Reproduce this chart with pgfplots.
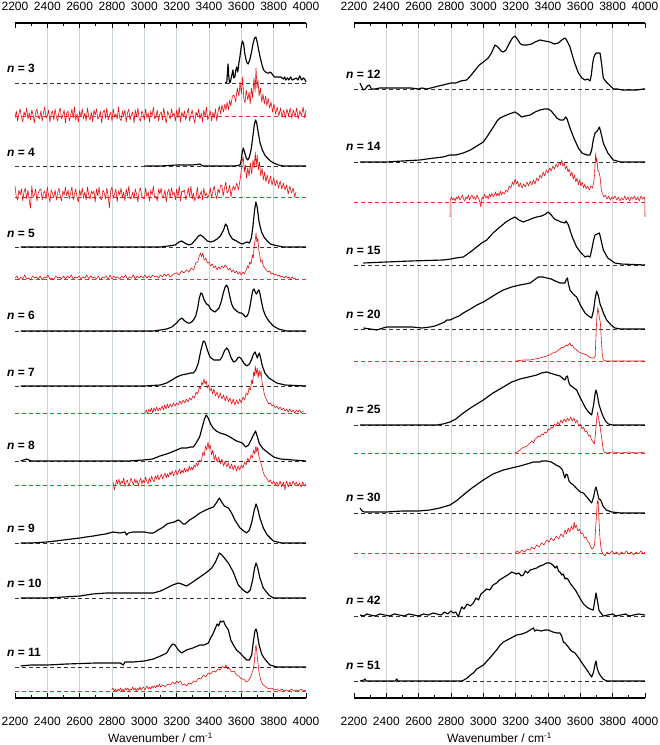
\documentclass[12pt,border=0pt]{standalone}
\usepackage{fontspec}
\setmainfont{Liberation Sans}
\usepackage{pgfplots}
\pgfplotsset{compat=1.18}
\definecolor{gridc}{RGB}{200,213,218}
\definecolor{redc}{RGB}{228,18,18}
\definecolor{redd}{RGB}{226,50,50}
\tikzset{
  blk/.style={black, line width=1.15pt, line join=round},
  rd/.style={redc, line width=0.6pt, line join=round},
  bd/.style={black!80, line width=0.9pt, dash pattern=on 4pt off 3pt},
  rdd/.style={redd, line width=0.9pt, dash pattern=on 4pt off 3pt},
}
\newcommand{\bl}[2]{\addplot[#1] coordinates {(2200,#2) (4000,#2)};}
\newcommand{\lab}[2]{\node[anchor=west,inner sep=0pt] at (axis cs:2150,#1) {\textbf{\textit{n} = #2}};}
\pgfplotsset{
  panel/.style={
    anchor=south west, width=291pt, height=675pt, scale only axis,
    xmin=2200, xmax=4000, ymin=-698, ymax=-23,
    axis y line=none, clip=false,
    y filter/.expression={0-y},
    xtick={2400,2600,...,3800}, extra x ticks={2200,4000},
    minor xtick={2300,2500,...,3900},
    xtick align=inside,
    major tick length=5pt, minor tick length=3pt,
    tick style={black, line width=0.9pt},
    x axis line style={line width=1.1pt},
    /pgf/number format/assume math mode=true,
    /pgf/number format/1000 sep={},
  },
  bottompanel/.style={panel, axis x line*=bottom, xtick pos=left, xticklabel pos=left,
    xticklabel shift=15pt, xmajorgrids, extra x tick style={grid=none},
    major grid style={gridc, line width=0.9pt},
    xlabel={Wavenumber / cm\textsuperscript{-1}},
    xlabel style={at={(axis description cs:0.5,0)}, anchor=center, yshift=-40pt}},
  toppanel/.style={panel, axis x line*=top, xtick pos=right, xticklabel pos=right, xticklabel shift=8pt},
}
\begin{document}
\begin{tikzpicture}
\useasboundingbox (0,0) rectangle (660pt,745pt);
%================ LEFT PANEL =================
\begin{axis}[bottompanel, at={(15pt,47pt)}]
% n = 3
\bl{bd}{83}
\addplot[blk] coordinates {(3500,83) (3510,82) (3518,64) (3522,76) (3527,83) (3532,82) (3540,76) (3548,70) (3553,78) (3560,77) (3566,70) (3572,67) (3578,72) (3585,63) (3592,56) (3600,46) (3607,41) (3614,44) (3622,54) (3632,62) (3642,64) (3652,60) (3662,53) (3672,44) (3682,38) (3690,37) (3698,42) (3707,50) (3716,57) (3728,65) (3738,70) (3750,72) (3760,73) (3772,73) (3780,72) (3790,74) (3805,77) (3825,77) (3845,77) (3860,79) (3868,77) (3875,80) (3885,78) (3895,80) (3905,77) (3915,80) (3928,79) (3940,78) (3950,80) (3962,76) (3972,80) (3985,78) (3995,80) (4000,82)};
\bl{rdd}{116}
\addplot[rd] coordinates {
(2200,118) (2208,111) (2216,121) (2224,114) (2232,109) (2240,117) (2248,122) (2256,112) (2264,116) (2272,108)
(2280,119) (2288,113) (2296,120) (2304,110) (2312,115) (2320,123) (2328,112) (2336,109) (2344,117) (2352,119)
(2360,111) (2368,121) (2376,113) (2384,107) (2392,118) (2400,116) (2408,110) (2416,122) (2424,114) (2432,111)
(2440,120) (2448,109) (2456,117) (2464,121) (2472,112) (2480,108) (2488,119) (2496,115) (2504,110) (2512,123)
(2520,113) (2528,111) (2536,121) (2544,116) (2552,109) (2560,118) (2568,107) (2576,120) (2584,114) (2592,122)
(2600,111) (2608,117) (2616,109) (2624,119) (2632,113) (2640,121) (2648,108) (2656,116) (2664,120) (2672,112)
(2680,122) (2688,110) (2696,115) (2704,109) (2712,119) (2720,117) (2728,111) (2736,123) (2744,113) (2752,110)
(2760,118) (2768,108) (2776,120) (2784,116) (2792,112) (2800,121) (2808,109) (2816,117) (2824,114) (2832,119)
(2840,107) (2848,118) (2856,121) (2864,111) (2872,116) (2880,110) (2888,122) (2896,113) (2904,109) (2912,120)
(2920,115) (2928,112) (2936,123) (2944,110) (2952,117) (2960,108) (2968,119) (2976,121) (2984,111) (2992,114)
(3000,120) (3008,109) (3016,118) (3024,113) (3032,122) (3040,111) (3048,116) (3056,107) (3064,119) (3072,117)
(3080,110) (3088,121) (3096,114) (3104,112) (3112,120) (3120,108) (3128,117) (3136,123) (3144,111) (3152,115)
(3160,119) (3168,109) (3176,116) (3184,113) (3192,121) (3200,110) (3208,118) (3216,107) (3224,122) (3232,112)
(3240,117) (3248,111) (3256,120) (3264,114) (3272,108) (3280,121) (3288,115) (3296,110) (3304,118) (3312,123)
(3320,112) (3328,116) (3336,109) (3344,119) (3352,113) (3360,122) (3368,110) (3376,117) (3384,107) (3392,120)
(3400,116) (3408,111) (3416,121) (3424,112) (3432,118) (3440,109) (3448,121)
(3456,112) (3464,106) (3472,114) (3480,105) (3490,112) (3498,104) (3505,110) (3512,102) (3520,110) (3528,100) (3535,106) (3545,96) (3555,95) (3565,102) (3575,88) (3585,96) (3592,82) (3600,94) (3608,77) (3615,98) (3623,103) (3630,90) (3640,100) (3648,92) (3655,104) (3662,88) (3670,98) (3678,78) (3685,92) (3691,68) (3697,88) (3703,80) (3710,96) (3718,88) (3726,102) (3734,94) (3742,104) (3750,96) (3758,106) (3766,98) (3775,108) (3784,102) (3793,112) (3802,104) (3812,114) (3822,107) (3832,116) (3842,108) (3852,117) (3862,110) (3872,118) (3882,109) (3892,116) (3902,108) (3912,118) (3922,110) (3932,117) (3942,108) (3952,119) (3962,111) (3972,116) (3982,107) (3992,118) (4000,110)};
\lab{-68}{3}
% n = 4
\bl{bd}{166}
\addplot[blk] coordinates {(3000,166) (3100,166) (3200,165) (3300,165) (3344,164) (3360,166) (3500,166) (3560,166) (3592,165) (3600,160) (3606,152) (3612,148) (3620,152) (3630,158) (3640,160) (3650,157) (3660,150) (3670,138) (3680,125) (3688,120) (3695,123) (3705,133) (3716,143) (3730,150) (3745,155) (3760,158) (3780,161) (3800,163) (3830,165) (3860,166) (4000,166)};
\bl{rdd}{197}
\addplot[rd] coordinates {
(2200,186) (2208,197) (2216,200) (2224,190) (2232,195) (2240,189) (2248,201) (2256,192) (2264,188) (2272,199)
(2280,190) (2288,200) (2296,208) (2304,186) (2312,197) (2320,195) (2328,189) (2336,201) (2344,193) (2352,190)
(2360,189) (2368,200) (2376,193) (2384,191) (2392,199) (2400,187) (2408,196) (2416,202) (2424,190) (2432,194)
(2440,197) (2448,190) (2456,200) (2464,193) (2472,188) (2480,196) (2488,201) (2496,191) (2504,195) (2512,187)
(2520,196) (2528,190) (2536,199) (2544,193) (2552,187) (2560,200) (2568,194) (2576,189) (2584,197) (2592,202)
(2600,190) (2608,196) (2616,188) (2624,198) (2632,192) (2640,200) (2648,187) (2656,195) (2664,199) (2672,191)
(2680,194) (2688,191) (2696,202) (2704,189) (2712,196) (2720,187) (2728,198) (2736,200) (2744,190) (2752,193)
(2760,199) (2768,188) (2776,196) (2784,208) (2792,191) (2800,187) (2808,198) (2816,194) (2824,189) (2832,202)
(2840,191) (2848,195) (2856,188) (2864,198) (2872,192) (2880,201) (2888,189) (2896,196) (2904,186) (2912,199)
(2920,198) (2928,192) (2936,199) (2944,189) (2952,194) (2960,202) (2968,191) (2976,188) (2984,196) (2992,198)
(3000,199) (3008,188) (3016,197) (3024,192) (3032,201) (3040,190) (3048,195) (3056,186) (3064,198) (3072,196)
(3080,201) (3088,189) (3096,194) (3104,188) (3112,198) (3120,196) (3128,190) (3136,202) (3144,192) (3152,189)
(3160,198) (3168,188) (3176,195) (3184,192) (3192,200) (3200,189) (3208,197) (3216,186) (3224,201) (3232,191)
(3240,192) (3248,190) (3256,200) (3264,195) (3272,188) (3280,197) (3288,186) (3296,199) (3304,193) (3312,201)
(3320,197) (3328,187) (3336,199) (3344,195) (3352,191) (3360,200) (3368,188) (3376,196) (3384,193) (3392,198)
(3400,195) (3408,188) (3416,198) (3424,191) (3432,186) (3440,194) (3448,199) (3456,189) (3464,193) (3472,185)
(3480,186) (3488,196) (3496,188) (3504,182) (3512,193) (3520,191) (3528,185) (3536,197) (3544,189) (3552,186)
(3560,190) (3572,183) (3582,190) (3592,180) (3600,170) (3606,160) (3612,157) (3618,172) (3625,165) (3632,178) (3640,168) (3648,176) (3656,163) (3664,174) (3672,160) (3680,168) (3686,152) (3692,166) (3698,155) (3705,170) (3712,162) (3720,176) (3728,168) (3736,180) (3744,172) (3752,182) (3760,175) (3770,184) (3780,176) (3790,185) (3800,178) (3810,186) (3820,180) (3830,188) (3840,181) (3850,189) (3860,183) (3870,190) (3880,185) (3890,194) (3900,186) (3910,193) (3920,188) (3930,197) (3938,192)};
\lab{-152}{4}
% n = 5
\bl{bd}{247}
\addplot[blk] coordinates {(2235,247) (2400,247) (2600,247) (2800,247) (3000,247) (3100,247) (3150,246) (3190,245) (3215,242) (3231,241) (3250,243) (3275,245) (3293,244) (3315,240) (3335,236) (3348,235) (3365,237) (3390,241) (3410,242) (3430,241) (3450,239) (3470,236) (3490,230) (3502,224) (3512,226) (3525,234) (3545,239) (3570,241) (3590,243) (3605,244) (3620,243) (3635,242) (3650,243) (3662,238) (3672,226) (3682,210) (3690,202) (3698,207) (3710,222) (3725,232) (3740,237) (3760,241) (3780,244) (3800,245) (3830,246) (3860,247) (4000,247)};
\bl{rdd}{279}
\addplot[rd] coordinates {(2200,278) (2212,276) (2224,280) (2236,277) (2248,279) (2260,275) (2272,279) (2284,278) (2296,280) (2308,276) (2320,278) (2332,277) (2344,279) (2356,276) (2368,280) (2380,277) (2392,278) (2404,275) (2416,279) (2428,278) (2440,280) (2452,276) (2464,278) (2476,277) (2488,279) (2500,276) (2512,279) (2524,276) (2536,278) (2548,275) (2560,279) (2572,277) (2584,278) (2596,276) (2608,279) (2620,277) (2632,278) (2644,275) (2656,279) (2668,276) (2680,278) (2692,277) (2704,279) (2716,276) (2728,280) (2740,277) (2752,278) (2764,276) (2776,279) (2788,275) (2800,279) (2812,276) (2824,278) (2836,277) (2848,279) (2860,276) (2872,278) (2884,275) (2896,279) (2908,277) (2920,278) (2932,275) (2944,279) (2956,276) (2968,278) (2980,276) (2992,278) (3004,275) (3016,278) (3028,276) (3040,278) (3052,275) (3064,277) (3076,276) (3088,278) (3100,275) (3112,277) (3124,274) (3136,276) (3148,274) (3160,277) (3180,274) (3200,273) (3215,275) (3230,271) (3245,273) (3260,270) (3275,272) (3290,268) (3305,270) (3318,263) (3330,262) (3340,256) (3348,253) (3355,257) (3362,253) (3370,260) (3380,258) (3390,263) (3400,262) (3410,266) (3420,264) (3430,268) (3440,266) (3450,270) (3460,267) (3470,269) (3480,266) (3490,268) (3500,265) (3510,267) (3520,270) (3530,268) (3540,272) (3550,270) (3560,273) (3570,271) (3580,274) (3590,272) (3600,275) (3610,272) (3620,274) (3630,270) (3638,266) (3645,268) (3652,262) (3660,264) (3668,255) (3674,258) (3680,245) (3686,240) (3691,233) (3696,242) (3702,238) (3708,250) (3714,255) (3720,262) (3728,260) (3736,266) (3745,268) (3755,270) (3765,272) (3775,271) (3785,274) (3795,273) (3805,275) (3815,274) (3825,276) (3835,275) (3845,277) (3855,276) (3865,278) (3875,276) (3885,278) (3895,277) (3905,279) (3915,277) (3925,279) (3938,278)};
\lab{-233}{5}
% n = 6
\bl{bd}{331}
\addplot[blk] coordinates {(2235,331) (2500,331) (3000,331) (3056,331) (3100,330) (3138,329) (3170,327) (3200,323) (3215,320) (3231,318) (3250,321) (3270,323) (3282,323) (3300,321) (3318,316) (3330,308) (3340,298) (3350,293) (3358,294) (3370,300) (3385,304) (3396,305) (3410,309) (3425,311) (3437,312) (3450,310) (3462,308) (3475,302) (3490,292) (3500,287) (3509,285) (3518,288) (3528,296) (3540,304) (3551,308) (3570,311) (3590,313) (3602,313) (3615,315) (3625,317) (3635,316) (3645,313) (3655,305) (3665,295) (3672,290) (3679,289) (3688,293) (3695,294) (3702,291) (3709,290) (3716,294) (3725,302) (3736,310) (3750,316) (3770,321) (3798,326) (3830,329) (3880,331) (4000,331)};
\lab{-315}{6}
% n = 7
\bl{bd}{386}
\addplot[blk] coordinates {(2235,386) (2500,386) (3000,386) (3100,385) (3138,383) (3170,380) (3200,377) (3230,375) (3262,374) (3285,373) (3303,373) (3318,370) (3334,363) (3350,350) (3365,341) (3375,342) (3390,350) (3406,357) (3430,360) (3450,360) (3468,360) (3480,357) (3495,351) (3509,348) (3520,350) (3535,357) (3551,362) (3565,361) (3578,358) (3588,357) (3600,359) (3615,363) (3633,366) (3650,364) (3665,359) (3675,354) (3685,352) (3692,355) (3699,358) (3705,355) (3711,353) (3718,357) (3730,366) (3746,373) (3770,378) (3800,381) (3819,383) (3870,385) (4000,386)};
\bl{rdd}{413}
\addplot[rd] coordinates {(3004,413) (3012,410) (3020,414) (3028,409) (3036,412) (3044,408) (3052,413) (3060,408) (3068,411) (3076,407) (3085,411) (3093,408) (3100,410) (3110,406) (3118,410) (3126,405) (3134,409) (3142,404) (3150,408) (3160,404) (3170,407) (3180,403) (3190,406) (3200,403) (3210,405) (3220,401) (3230,404) (3240,400) (3250,403) (3260,399) (3270,402) (3280,398) (3290,400) (3300,396) (3310,398) (3320,392) (3330,394) (3340,387) (3348,389) (3355,382) (3362,385) (3369,379) (3376,384) (3383,381) (3390,388) (3398,385) (3406,391) (3414,388) (3422,394) (3430,389) (3440,396) (3450,392) (3460,398) (3470,393) (3480,399) (3490,395) (3500,401) (3510,396) (3520,402) (3530,398) (3540,404) (3550,399) (3560,405) (3570,400) (3580,404) (3590,399) (3600,403) (3610,397) (3620,400) (3630,393) (3640,395) (3648,388) (3656,390) (3664,380) (3670,384) (3676,372) (3682,376) (3686,366) (3692,374) (3698,368) (3704,378) (3710,370) (3716,376) (3722,371) (3728,382) (3735,388) (3742,394) (3750,398) (3760,401) (3770,404) (3780,403) (3790,406) (3800,405) (3810,408) (3820,406) (3830,409) (3840,407) (3850,410) (3860,408) (3870,411) (3880,409) (3890,412) (3900,409) (3910,412) (3920,410) (3930,413) (3940,410) (3950,412) (3960,410) (3970,413) (3984,411)};
\lab{-372}{7}
% n = 8
\bl{bd}{461}
\addplot[blk] coordinates {(2235,461) (2272,459) (2300,461) (2600,461) (2900,461) (2994,460) (3050,459) (3097,456) (3138,454) (3170,452) (3200,450) (3230,448) (3262,448) (3285,447) (3303,447) (3320,443) (3342,437) (3360,426) (3372,419) (3383,415) (3395,418) (3410,424) (3425,428) (3445,431) (3468,433) (3490,434) (3507,435) (3530,437) (3550,439) (3570,441) (3590,442) (3605,443) (3627,447) (3645,445) (3660,440) (3675,435) (3688,431) (3698,436) (3712,444) (3736,449) (3759,452) (3800,457) (3842,459) (4000,461)};
\bl{rdd}{485}
\addplot[rd] coordinates {(2806,482) (2815,490) (2820,486) (2828,480) (2835,484) (2843,479) (2850,485) (2858,481) (2865,483) (2873,478) (2880,487) (2888,482) (2895,480) (2903,486) (2910,483) (2918,478) (2925,482) (2933,485) (2940,479) (2948,483) (2955,480) (2963,486) (2970,481) (2978,478) (2985,484) (2993,480) (3000,483) (3008,477) (3015,481) (3023,484) (3030,478) (3038,482) (3045,476) (3053,480) (3060,482) (3068,476) (3075,479) (3083,475) (3090,480) (3098,477) (3105,474) (3113,479) (3120,476) (3128,473) (3135,478) (3143,474) (3150,477) (3158,472) (3165,475) (3173,471) (3180,476) (3188,473) (3195,470) (3203,475) (3210,472) (3218,469) (3225,474) (3233,470) (3240,473) (3248,468) (3255,472) (3263,469) (3270,472) (3278,466) (3285,470) (3293,467) (3300,470) (3308,465) (3315,467) (3323,463) (3330,466) (3342,460) (3352,462) (3362,452) (3370,456) (3378,446) (3386,450) (3394,442) (3400,449) (3408,445) (3416,455) (3424,450) (3432,460) (3440,455) (3450,462) (3460,457) (3470,464) (3480,459) (3490,466) (3500,461) (3510,467) (3520,463) (3530,469) (3540,464) (3550,470) (3560,465) (3570,471) (3580,466) (3590,470) (3600,465) (3610,468) (3620,462) (3630,465) (3640,458) (3650,462) (3660,455) (3668,458) (3676,450) (3684,454) (3690,446) (3696,452) (3702,447) (3708,456) (3716,460) (3726,466) (3735,472) (3745,476) (3757,478) (3770,482) (3780,480) (3790,484) (3800,481) (3810,485) (3820,482) (3830,486) (3840,481) (3850,487) (3860,482) (3870,490) (3875,484) (3880,481) (3890,487) (3900,482) (3910,486) (3920,481) (3930,485) (3940,482) (3950,486) (3960,483) (3970,487) (3980,482) (3990,486) (4000,484)};
\lab{-445}{8}
% n = 9
\bl{bd}{543}
\addplot[blk] coordinates {(2235,543) (2300,543) (2396,542) (2450,541) (2500,540) (2550,539) (2602,538) (2640,537) (2685,536) (2720,535) (2760,534) (2808,532) (2850,533) (2880,532) (2890,535) (2901,533) (2930,532) (2953,532) (3000,532) (3030,533) (3056,533) (3085,530) (3118,527) (3140,524) (3159,523) (3185,522) (3210,520) (3221,521) (3240,524) (3252,524) (3280,520) (3310,517) (3344,513) (3380,510) (3410,508) (3427,507) (3445,503) (3464,498) (3478,502) (3495,506) (3520,508) (3540,513) (3560,520) (3592,528) (3615,531) (3633,533) (3650,530) (3665,522) (3680,510) (3691,504) (3700,508) (3715,518) (3736,528) (3760,535) (3798,541) (3850,543) (4000,543)};
\lab{-528}{9}
% n = 10
\bl{bd}{598}
\addplot[blk] coordinates {(2235,598) (2396,598) (2500,597) (2602,596) (2680,594) (2767,593) (2850,593) (2932,593) (3000,593) (3056,593) (3100,591) (3138,588) (3175,585) (3210,583) (3230,584) (3262,586) (3300,582) (3344,577) (3380,573) (3417,568) (3440,562) (3464,553) (3480,555) (3500,559) (3520,563) (3550,572) (3581,585) (3610,590) (3637,593) (3655,590) (3670,580) (3682,568) (3691,563) (3700,567) (3715,578) (3736,588) (3770,595) (3798,598) (4000,598)};
\lab{-583}{10}
% n = 11
\bl{bd}{667}
\addplot[blk] coordinates {(2235,666) (2300,665) (2400,665) (2520,664) (2700,663) (2850,663) (2870,665) (2880,662) (2932,662) (3000,661) (3056,659) (3100,656) (3138,653) (3160,647) (3175,644) (3190,645) (3210,650) (3231,653) (3260,650) (3300,648) (3344,645) (3370,645) (3396,643) (3410,638) (3427,633) (3440,628) (3450,624) (3460,626) (3470,621) (3478,622) (3490,621) (3500,625) (3520,630) (3535,640) (3551,645) (3570,650) (3592,653) (3615,657) (3633,660) (3650,660) (3664,655) (3676,640) (3684,631) (3691,629) (3698,633) (3710,645) (3726,654) (3736,657) (3760,662) (3777,665) (3820,667) (4000,667)};
\bl{rdd}{691}
\addplot[rd] coordinates {(2798,690) (2806,688) (2815,691) (2823,689) (2830,692) (2838,689) (2845,691) (2853,688) (2860,691) (2868,689) (2875,692) (2883,688) (2890,690) (2898,688) (2905,691) (2913,689) (2920,690) (2928,687) (2935,690) (2943,688) (2950,691) (2958,688) (2965,690) (2973,687) (2980,690) (2988,688) (2995,687) (3003,690) (3010,688) (3018,686) (3025,689) (3033,687) (3040,689) (3048,686) (3055,688) (3063,686) (3070,688) (3078,685) (3085,687) (3093,684) (3100,687) (3115,685) (3130,687) (3145,684) (3160,685) (3175,682) (3190,684) (3200,681) (3210,683) (3222,681) (3235,685) (3250,684) (3262,686) (3275,683) (3290,684) (3305,681) (3320,682) (3335,678) (3350,679) (3365,675) (3380,677) (3395,673) (3410,674) (3425,671) (3440,672) (3455,669) (3470,670) (3482,666) (3495,668) (3505,665) (3515,669) (3525,668) (3540,672) (3555,671) (3570,675) (3585,676) (3600,679) (3615,679) (3630,682) (3640,681) (3650,679) (3660,676) (3668,672) (3676,668) (3682,660) (3687,648) (3691,645) (3696,652) (3702,662) (3710,673) (3720,680) (3730,684) (3745,686) (3760,688) (3777,689) (3790,688) (3805,690) (3820,689) (3835,691) (3850,689) (3865,691) (3880,690) (3895,691) (3910,689) (3925,691) (3940,690) (3955,691) (3970,689) (3985,691) (4000,690)};
\lab{-652}{11}
\end{axis}
\begin{axis}[toppanel, at={(15pt,47pt)}]
\end{axis}
%================ RIGHT PANEL =================
\begin{axis}[bottompanel, at={(354pt,47pt)}]
% n = 12
\bl{bd}{89}
\addplot[blk] coordinates {(2237,83) (2245,86) (2258,90) (2270,89) (2283,86) (2295,85) (2308,89) (2330,89) (2360,88) (2400,88) (2450,88) (2500,88) (2550,88) (2600,89) (2620,88) (2650,89) (2700,87) (2750,85) (2800,83) (2830,83) (2860,81) (2897,80) (2920,76) (2950,70) (2975,65) (3000,62) (3030,58) (3050,53) (3072,45) (3090,47) (3110,51) (3124,52) (3140,50) (3165,42) (3180,38) (3196,36) (3210,39) (3230,44) (3247,45) (3270,45) (3299,44) (3320,42) (3350,40) (3380,41) (3412,42) (3440,44) (3464,43) (3485,40) (3505,38) (3515,40) (3536,47) (3550,55) (3565,63) (3588,73) (3610,78) (3629,80) (3645,79) (3660,81) (3668,75) (3675,65) (3682,58) (3692,54) (3701,53) (3712,53) (3722,53) (3730,62) (3742,78) (3760,82) (3780,85) (3804,89) (3830,89) (3860,90) (3900,90) (3950,90) (3990,89) (4000,89)};
\lab{-74}{12}
% n = 14
\bl{bd}{162}
\addplot[blk] coordinates {(2237,162) (2300,162) (2400,162) (2500,161) (2608,160) (2650,159) (2700,158) (2750,157) (2794,155) (2830,155) (2876,153) (2920,150) (2960,146) (3000,142) (3030,135) (3062,127) (3085,121) (3103,118) (3130,116) (3160,114) (3196,112) (3215,114) (3237,117) (3260,116) (3289,115) (3320,112) (3350,110) (3380,109) (3402,109) (3420,111) (3440,115) (3454,118) (3475,120) (3495,120) (3510,117) (3518,119) (3536,128) (3560,138) (3588,148) (3610,153) (3639,155) (3660,155) (3670,150) (3680,140) (3691,133) (3705,131) (3718,127) (3728,133) (3742,143) (3770,153) (3804,160) (3850,162) (4000,162)};
\bl{rdd}{202}
\addplot[rd] coordinates {(2794,217) (2795,200) (2803,197) (2810,200) (2818,198) (2825,201) (2833,197) (2840,199) (2848,196) (2855,200) (2863,198) (2870,195) (2878,199) (2885,201) (2893,197) (2900,199) (2908,195) (2915,200) (2923,197) (2930,195) (2938,199) (2945,197) (2953,200) (2960,195) (2968,198) (2975,200) (2985,207) (2992,197) (3000,199) (3008,194) (3015,198) (3023,196) (3030,199) (3038,194) (3045,197) (3053,193) (3060,197) (3068,195) (3075,192) (3083,196) (3090,193) (3098,196) (3105,191) (3113,195) (3120,192) (3130,194) (3140,190) (3150,192) (3160,186) (3170,188) (3180,182) (3188,185) (3196,179) (3204,184) (3212,181) (3220,187) (3230,183) (3240,188) (3250,184) (3260,187) (3270,182) (3280,186) (3290,181) (3300,185) (3310,180) (3320,184) (3330,178) (3340,181) (3350,175) (3360,178) (3370,172) (3380,176) (3390,170) (3400,173) (3410,168) (3420,171) (3430,166) (3440,169) (3450,164) (3460,167) (3470,162) (3478,165) (3485,160) (3492,166) (3500,163) (3508,169) (3516,166) (3524,172) (3532,169) (3540,176) (3548,172) (3556,179) (3564,175) (3572,182) (3580,178) (3588,185) (3596,180) (3604,186) (3612,182) (3620,188) (3628,184) (3636,189) (3645,186) (3655,190) (3665,186) (3675,188) (3682,183) (3688,175) (3692,160) (3695,153) (3698,162) (3702,158) (3708,170) (3715,172) (3722,177) (3730,190) (3738,194) (3745,197) (3755,195) (3765,199) (3775,196) (3785,200) (3795,197) (3804,199) (3815,196) (3825,200) (3835,197) (3845,201) (3855,198) (3865,200) (3875,196) (3885,200) (3895,197) (3905,201) (3915,197) (3925,199) (3935,196) (3945,200) (3955,197) (3965,201) (3975,196) (3985,199) (3995,197) (3999,200) (4000,217)};
\lab{-146}{14}
% n = 15
\bl{bd}{265}
\addplot[blk] coordinates {(2258,263) (2400,262) (2550,261) (2753,260) (2800,259) (2830,258) (2876,257) (2920,252) (2959,247) (2990,243) (3021,240) (3060,233) (3103,227) (3140,222) (3170,219) (3196,217) (3220,220) (3247,222) (3280,220) (3310,218) (3330,217) (3360,216) (3385,214) (3402,212) (3420,215) (3440,219) (3454,220) (3480,222) (3505,223) (3512,221) (3526,225) (3550,237) (3577,247) (3600,252) (3629,257) (3645,256) (3660,257) (3670,250) (3682,240) (3691,235) (3705,234) (3718,233) (3728,240) (3742,250) (3770,258) (3814,263) (3850,264) (4000,265)};
\lab{-250}{15}
% n = 20
\bl{bd}{329}
\addplot[blk] coordinates {(2258,328) (2300,329) (2340,330) (2361,329) (2380,328) (2402,327) (2450,327) (2500,327) (2560,327) (2620,328) (2670,327) (2700,326) (2732,324) (2760,322) (2775,320) (2794,320) (2820,318) (2850,316) (2876,313) (2920,309) (2960,305) (3000,302) (3050,297) (3090,293) (3124,290) (3175,287) (3227,285) (3260,284) (3289,283) (3315,280) (3340,277) (3370,277) (3392,278) (3420,279) (3445,281) (3474,283) (3495,283) (3505,283) (3512,280) (3520,278) (3528,285) (3536,290) (3555,294) (3577,297) (3600,305) (3629,313) (3650,316) (3670,318) (3682,310) (3692,298) (3701,291) (3712,296) (3722,304) (3732,308) (3745,314) (3763,320) (3790,325) (3814,328) (3850,329) (4000,329)};
\bl{rdd}{361}
\addplot[rd] coordinates {(3200,361) (3250,360) (3289,360) (3320,359) (3350,358) (3370,357) (3392,356) (3410,355) (3430,353) (3450,352) (3465,350) (3474,349) (3485,347) (3495,348) (3505,346) (3515,345) (3522,346) (3530,344) (3536,343) (3542,346) (3550,345) (3560,348) (3570,349) (3577,350) (3590,352) (3605,353) (3620,354) (3639,355) (3655,357) (3670,358) (3685,358) (3692,356) (3697,335) (3702,318) (3708,308) (3713,312) (3718,318) (3724,323) (3730,340) (3736,355) (3742,360) (3760,361) (4000,361)};
\lab{-314}{20}
% n = 25
\bl{bd}{425}
\addplot[blk] coordinates {(2237,425) (2711,425) (2750,424) (2794,422) (2830,419) (2876,413) (2930,407) (3000,400) (3060,393) (3124,387) (3175,382) (3227,379) (3280,377) (3330,375) (3360,373) (3392,372) (3430,374) (3474,376) (3495,379) (3505,380) (3512,377) (3520,376) (3528,382) (3536,385) (3560,388) (3577,390) (3600,398) (3629,407) (3650,412) (3670,415) (3682,405) (3692,393) (3697,390) (3705,395) (3715,404) (3726,410) (3740,416) (3755,421) (3773,424) (3800,425) (4000,425)};
\bl{rdd}{453}
\addplot[rd] coordinates {(3196,453) (3210,452) (3225,450) (3240,448) (3255,447) (3270,446) (3289,443) (3300,441) (3310,443) (3320,439) (3330,438) (3340,436) (3350,437) (3360,434) (3370,435) (3380,432) (3392,433) (3400,429) (3410,430) (3420,427) (3430,428) (3440,424) (3450,426) (3460,422) (3470,425) (3480,420) (3490,423) (3500,419) (3510,422) (3520,418) (3530,421) (3540,417) (3550,421) (3560,418) (3570,423) (3580,420) (3590,426) (3600,424) (3610,429) (3620,427) (3630,432) (3640,431) (3650,436) (3660,435) (3670,440) (3680,442) (3687,444) (3693,435) (3697,427) (3702,418) (3707,412) (3712,418) (3718,422) (3725,430) (3732,438) (3740,448) (3747,452) (3760,453) (3800,452) (3850,453) (3900,452) (3950,453) (4000,452)};
\lab{-409}{25}
% n = 30
\bl{bd}{513}
\addplot[blk] coordinates {(2237,508) (2250,511) (2265,512) (2300,512) (2400,512) (2500,511) (2600,511) (2670,510) (2730,508) (2794,505) (2840,500) (2876,495) (2930,488) (3000,480) (3060,474) (3124,470) (3175,468) (3227,466) (3270,464) (3310,462) (3350,462) (3360,461) (3392,461) (3420,462) (3450,465) (3474,467) (3490,470) (3500,476) (3505,478) (3512,474) (3520,475) (3530,481) (3540,483) (3557,485) (3580,489) (3600,492) (3619,493) (3640,497) (3660,501) (3670,503) (3682,497) (3692,489) (3697,487) (3705,492) (3715,499) (3726,500) (3740,506) (3760,510) (3794,512) (3850,513) (4000,513)};
\bl{rdd}{553}
\addplot[rd] coordinates {(3196,553) (3210,551) (3225,553) (3240,550) (3255,552) (3270,549) (3289,550) (3300,547) (3315,549) (3330,545) (3345,547) (3360,543) (3375,545) (3392,540) (3405,542) (3420,538) (3435,541) (3450,536) (3465,539) (3480,534) (3495,537) (3505,530) (3515,534) (3525,528) (3535,532) (3545,526) (3555,530) (3562,522) (3567,528) (3575,525) (3585,531) (3595,529) (3605,534) (3615,533) (3625,538) (3635,537) (3645,541) (3655,543) (3665,547) (3672,549) (3680,548) (3688,545) (3694,530) (3700,515) (3705,502) (3710,500) (3714,515) (3720,535) (3726,546) (3732,551) (3740,554) (3752,556) (3765,552) (3780,554) (3795,551) (3810,554) (3825,552) (3840,555) (3855,552) (3870,554) (3885,551) (3900,554) (3915,552) (3930,555) (3945,552) (3960,554) (3975,551) (3990,554) (4000,552)};
\lab{-497}{30}
% n = 42
\bl{bd}{616}
\addplot[blk] coordinates {(2237,615) (2260,616) (2280,614) (2300,615) (2330,616) (2360,614) (2390,615) (2420,616) (2450,614) (2480,615) (2510,616) (2540,614) (2570,615) (2600,616) (2630,614) (2660,615) (2690,613) (2711,614) (2740,615) (2760,612) (2780,614) (2800,611) (2814,613) (2830,612) (2845,617) (2855,612) (2866,607) (2880,609) (2900,604) (2920,606) (2938,603) (2955,598) (2970,600) (2985,594) (3000,592) (3020,589) (3040,590) (3060,585) (3082,583) (3100,580) (3120,578) (3140,576) (3160,574) (3175,572) (3190,573) (3205,574) (3220,573) (3235,576) (3247,575) (3260,571) (3275,573) (3290,570) (3310,569) (3330,568) (3350,566) (3370,565) (3390,563) (3412,563) (3430,565) (3445,568) (3455,566) (3465,571) (3474,572) (3485,575) (3495,574) (3505,579) (3515,578) (3526,580) (3540,584) (3560,588) (3577,592) (3600,599) (3620,604) (3639,607) (3660,609) (3680,610) (3690,600) (3697,593) (3705,600) (3715,610) (3722,612) (3742,616) (3770,615) (3800,614) (3820,616) (3850,615) (3880,614) (3900,616) (3930,615) (3960,614) (4000,615)};
\lab{-600}{42}
% n = 51
\bl{bd}{681}
\addplot[blk] coordinates {(2237,681) (2262,680) (2268,679) (2275,681) (2400,681) (2455,681) (2464,679) (2472,681) (2600,681) (2800,681) (2866,681) (2880,680) (2900,678) (2920,675) (2938,673) (2960,669) (3000,665) (3040,658) (3082,650) (3105,645) (3124,642) (3160,639) (3206,635) (3240,634) (3270,632) (3300,629) (3310,628) (3318,631) (3330,630) (3360,631) (3380,630) (3402,630) (3430,632) (3455,633) (3474,633) (3485,636) (3495,642) (3505,643) (3516,645) (3530,648) (3545,651) (3567,653) (3590,658) (3619,665) (3645,671) (3670,677) (3682,672) (3690,665) (3697,661) (3704,668) (3712,672) (3722,675) (3740,679) (3763,681) (4000,681)};
\lab{-665}{51}
\end{axis}
\begin{axis}[toppanel, at={(354pt,47pt)}]
\end{axis}
\end{tikzpicture}
\end{document}
